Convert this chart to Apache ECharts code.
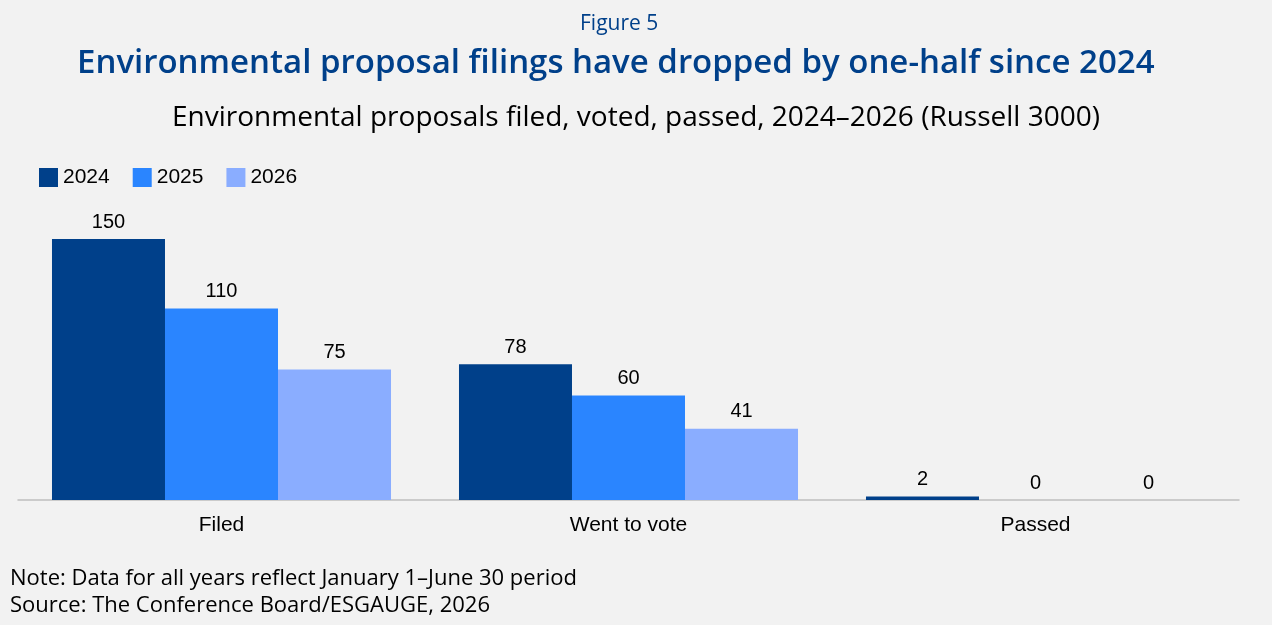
<!DOCTYPE html>
<html>
<head>
<meta charset="utf-8">
<script src="https://cdn.jsdelivr.net/npm/echarts@6/dist/echarts.min.js"></script>
<style>
  html, body { margin: 0; padding: 0; background: #f2f2f2; }
  #main { width: 1272px; height: 625px; }
</style>
</head>
<body>
<div id="main"></div>
<script>
var categories = ['Filed', 'Went to vote', 'Passed'];
var years = ['2024', '2025', '2026'];
var values2024 = [150, 78, 2];
var values2025 = [110, 60, 0];
var values2026 = [75, 41, 0];
var colors = ['#00408a', '#2a85ff', '#8aadff'];

var myChart = echarts.init(document.getElementById('main'));
var allValues = [values2024, values2025, values2026];
var series = [];
for (var i = 0; i < years.length; i++) {
    series.push({
        name: years[i],
        type: 'bar',
        data: allValues[i],
        barGap: '0%',
        barCategoryGap: '16.7%',
        itemStyle: { color: colors[i] },
        label: {
            show: true,
            position: 'top',
            distance: 7,
            color: '#000',
            fontSize: 20,
            fontFamily: 'Liberation Sans'
        }
    });
}

var option = {
    backgroundColor: '#f2f2f2',
    title: [
        {
            text: 'Figure 5', left: 580, top: 14, padding: 0,
            textStyle: { color: '#00408a', fontSize: 21, fontWeight: 'normal', fontFamily: 'Open Sans' }
        },
        {
            text: 'Environmental proposal filings have dropped by one-half since 2024', left: 77, top: 47, padding: 0,
            textStyle: { color: '#00408a', fontSize: 33, fontWeight: 600, fontFamily: 'Open Sans' }
        },
        {
            text: 'Environmental proposals filed, voted, passed, 2024\u20132026 (Russell 3000)', left: 'center', top: 104, padding: 0,
            textStyle: { color: '#000', fontSize: 28, fontWeight: 'normal', fontFamily: 'Open Sans' }
        },
        {
            text: 'Note: Data for all years reflect January 1\u2013June 30 period\nSource: The Conference Board/ESGAUGE, 2026',
            left: 10, top: 565, padding: 0,
            textStyle: { color: '#000', fontSize: 22, fontWeight: 'normal', fontFamily: 'Open Sans', lineHeight: 27 }
        }
    ],
    legend: {
        data: years,
        left: 39,
        top: 167,
        padding: 0,
        icon: 'rect',
        itemWidth: 19,
        itemHeight: 19,
        itemGap: 23,
        textStyle: { color: '#000', fontSize: 21, fontFamily: 'Liberation Sans', padding: [0, 0, 0, 0] }
    },
    grid: { left: 18, right: 33, top: 239, bottom: 125 },
    xAxis: {
        type: 'category',
        data: categories,
        axisLine: { lineStyle: { color: '#bfbfbf', width: 1.5 } },
        axisTick: { show: false },
        axisLabel: { color: '#000', fontSize: 21, fontFamily: 'Liberation Sans', margin: 15 }
    },
    yAxis: {
        type: 'value',
        min: 0,
        max: 150,
        show: false,
        splitLine: { show: false }
    },
    series: series
};
myChart.setOption(option);
</script>
</body>
</html>
